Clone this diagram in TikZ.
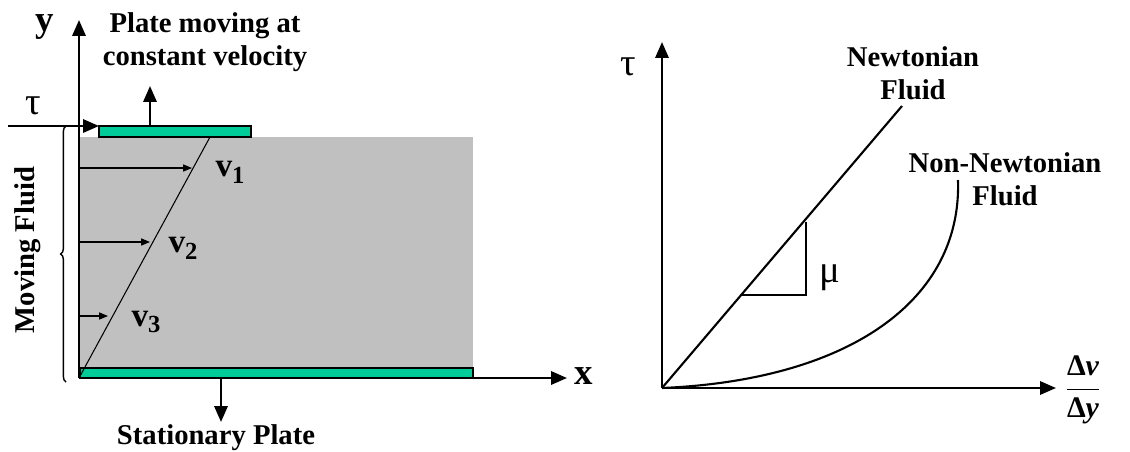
\documentclass[tikz,border=0pt]{standalone}
\usepackage{fontspec}
\setmainfont{Liberation Serif}
\usetikzlibrary{arrows.meta,decorations.pathreplacing}
\definecolor{plategreen}{RGB}{0,204,153}
\definecolor{fluidgray}{RGB}{192,192,192}
\newcommand{\vsub}[1]{v\raisebox{-0.45ex}{\fontsize{14}{14}\selectfont #1}}

\begin{document}
\begin{tikzpicture}[x=0.02cm, y=-0.02cm,
    axis/.style={line width=1.3pt, -{Triangle[length=9pt,width=7.5pt]}},
    vel/.style={line width=0.6pt, -{Triangle[length=5pt,width=4pt]}},
    plate/.style={draw=black, line width=0.6pt, fill=plategreen},
    lbl/.style={font=\fontsize{16.3}{18.5}\selectfont\bfseries, align=center, inner sep=0pt},
    sym/.style={font=\fontsize{21}{22}\selectfont\bfseries, inner sep=0pt},
    greek/.style={font=\fontsize{22}{22}\selectfont, inner sep=0pt}
]
\useasboundingbox (0,0) rectangle (1130,451);
% left: fluid between two plates
\fill[fluidgray] (80,137) rectangle (473,367);
\draw[plate] (99,126) rectangle (251,137);
\draw[plate] (80,368) rectangle (473,378);
\coordinate (O) at (79,378);
\coordinate (ytop) at (79,20);
\coordinate (xend) at (567,378);
\draw[axis] (O) -- (ytop);
\draw[axis] (O) -- (xend);
\node[sym] (ylab) at (45,27) {y};
\node[sym] (xlab) at (584,376) {x};
% shear force and plate motion
\coordinate (tauL) at (8,126);
\coordinate (tauR) at (99,126);
\draw[axis] (tauL) -- (tauR);
\node[greek] (taulab) at (33,106) {τ};
\coordinate (upfoot) at (150,126);
\coordinate (uptip) at (150,86);
\draw[axis] (upfoot) -- (uptip);
\node[lbl] (moving) at (205,42) {Plate moving at\\constant velocity};
\coordinate (downfoot) at (221,379);
\coordinate (downtip) at (221,422);
\draw[axis] (downfoot) -- (downtip);
\node[lbl] (stationary) at (216,438) {Stationary Plate};
% velocity profile
\coordinate (ptop) at (210,137);
\draw[line width=0.6pt] (O) -- (ptop);
\coordinate (a1) at (80,168); \coordinate (b1) at (192,168);
\coordinate (a2) at (80,242); \coordinate (b2) at (150,242);
\coordinate (a3) at (80,316); \coordinate (b3) at (108,316);
\draw[vel] (a1) -- (b1);
\draw[vel] (a2) -- (b2);
\draw[vel] (a3) -- (b3);
\node[sym, font=\fontsize{19}{20}\selectfont\bfseries] (v1) at (230,172) {\vsub{1}};
\node[sym, font=\fontsize{19}{20}\selectfont\bfseries] (v2) at (183,248) {\vsub{2}};
\node[sym, font=\fontsize{19}{20}\selectfont\bfseries] (v3) at (146,322) {\vsub{3}};
\draw[line width=0.8pt, decorate, decoration={brace, amplitude=3pt}] (66,382) -- (66,126);
\node[lbl, rotate=90] (fluid) at (28,250) {Moving Fluid};

% right: shear stress vs. rate of strain
\coordinate (P) at (662,388);
\coordinate (tautop) at (662,42);
\coordinate (gend) at (1056,388);
\draw[axis] (P) -- (tautop);
\draw[axis] (P) -- (gend);
\node[greek] (taulab2) at (628,67) {τ};
\node[lbl, font=\fontsize{17}{19}\selectfont\bfseries] (rate) at (1083,390)
    {$\displaystyle\frac{\hbox{Δ\itshape v}}{\hbox{Δ\itshape y}}$};
\coordinate (N) at (902,106);
\draw[line width=1.2pt] (P) -- (N);
\coordinate (t1) at (740,295);
\coordinate (t2) at (806,295);
\coordinate (t3) at (806,222);
\draw[line width=1.2pt] (t1) -- (t2) -- (t3);
\node[greek] (mu) at (830,278) {μ};
\coordinate (NN) at (958,180);
\draw[line width=1.2pt] (P) .. controls (850,380) and (962,300) .. (NN);
\node[lbl] (newt) at (913,73) {Newtonian\\Fluid};
\node[lbl] (nonnewt) at (1005,179) {Non-Newtonian\\Fluid};
\end{tikzpicture}
\end{document}
